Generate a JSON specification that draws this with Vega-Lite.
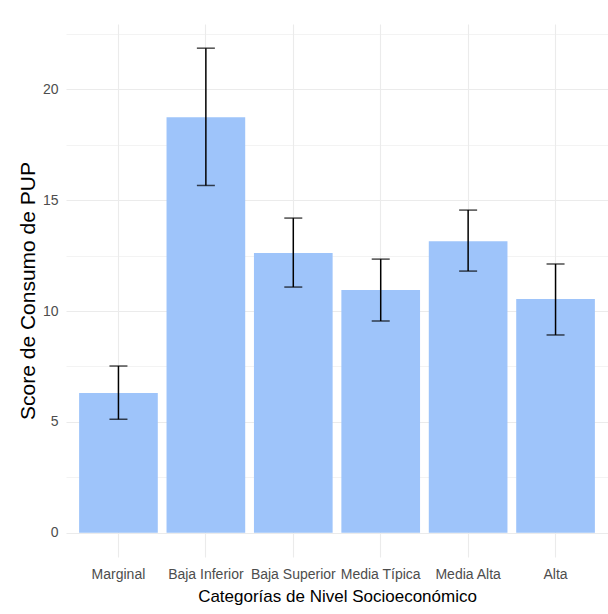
{
  "$schema": "https://vega.github.io/schema/vega-lite/v6.json",
  "autosize": "none",
  "width": 542,
  "height": 533,
  "padding": {"left": 66, "top": 24, "right": 0, "bottom": 57},
  "background": "white",
  "config": {
    "view": {"stroke": null},
    "font": "Liberation Sans",
    "axis": {"labelFont": "Liberation Sans", "titleFont": "Liberation Sans", "titleFontWeight": "normal", "domain": false, "ticks": false, "gridColor": "#EBEBEB"}
  },
  "data": {
    "values": [
      {"cat": "Marginal", "score": 6.3, "lo": 5.12, "hi": 7.52},
      {"cat": "Baja Inferior", "score": 18.74, "lo": 15.66, "hi": 21.85},
      {"cat": "Baja Superior", "score": 12.62, "lo": 11.08, "hi": 14.19},
      {"cat": "Media Típica", "score": 10.95, "lo": 9.55, "hi": 12.34},
      {"cat": "Media Alta", "score": 13.15, "lo": 11.8, "hi": 14.55},
      {"cat": "Alta", "score": 10.54, "lo": 8.92, "hi": 12.12}
    ]
  },
  "encoding": {
    "x": {
      "field": "cat", "type": "nominal", "sort": null,
      "scale": {"paddingInner": 0.1, "paddingOuter": 0.15},
      "axis": {"title": "Categorías de Nivel Socioeconómico", "labelAngle": 0, "labelColor": "#4D4D4D", "labelFontSize": 14, "labelPadding": 10, "labelOverlap": false, "titleFontSize": 17, "titleColor": "#000000", "titlePadding": 7, "grid": true, "bandPosition": 0.5, "gridWidth": 1.1}
    }
  },
  "layer": [
    {
      "mark": {"type": "bar", "color": "#9EC4FA"},
      "encoding": {
        "y": {
          "field": "score", "type": "quantitative",
          "scale": {"domain": [-1.09, 22.94], "nice": false, "zero": false},
          "axis": {"title": "Score de Consumo de PUP", "values": [0, 2.5, 5, 7.5, 10, 12.5, 15, 17.5, 20, 22.5], "labelExpr": "datum.value % 5 === 0 ? datum.label : ''", "labelColor": "#4D4D4D", "labelFontSize": 14, "labelPadding": 8, "titleFontSize": 21, "titleColor": "#000000", "titlePadding": 4, "grid": true, "gridWidth": {"condition": {"test": "datum.value % 5 === 0", "value": 1.1}, "value": 0.6}}
        }
      }
    },
    {
      "mark": {"type": "rule", "color": "#000000", "strokeWidth": 1.5},
      "encoding": {
        "y": {"field": "lo", "type": "quantitative"},
        "y2": {"field": "hi"}
      }
    },
    {
      "mark": {"type": "tick", "color": "#000000", "size": 18, "thickness": 1.5},
      "encoding": {"y": {"field": "lo", "type": "quantitative"}}
    },
    {
      "mark": {"type": "tick", "color": "#000000", "size": 18, "thickness": 1.5},
      "encoding": {"y": {"field": "hi", "type": "quantitative"}}
    }
  ]
}
